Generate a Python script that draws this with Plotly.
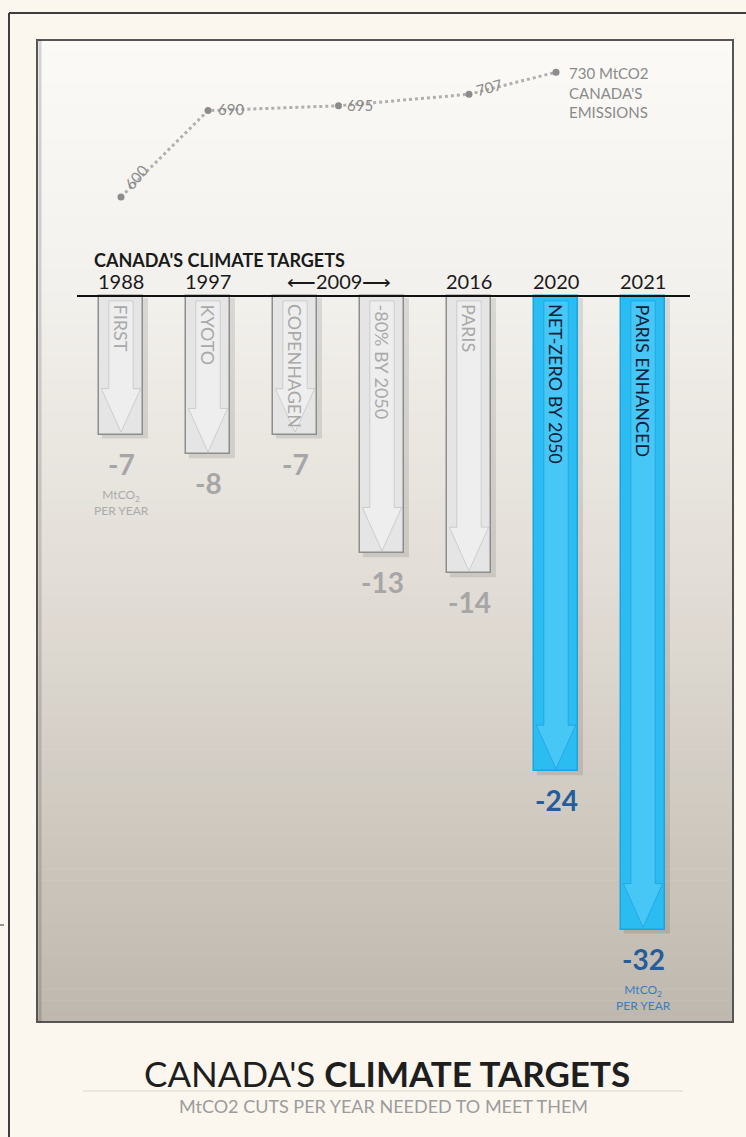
import plotly.graph_objects as go
import numpy as np

# ---------------- data ----------------
targets = ["FIRST", "KYOTO", "COPENHAGEN", "-80% BY 2050", "PARIS", "NET-ZERO BY 2050", "PARIS ENHANCED"]
target_years = ["1988", "1997", "2009", "2009", "2016", "2020", "2021"]
cuts = [-7, -8, -7, -13, -14, -24, -32]          # MtCO2 per year
highlight = [False, False, False, False, False, True, True]

emission_years = ["1988", "1997", "2009", "2016", "2020"]
emissions = [600, 690, 695, 707, 730]             # MtCO2

# ---------------- layout scale (pixels <-> data) ----------------
W, H = 746, 1137
X0, DX = 121, 87.0        # pixel of category 0, pixels per category
Y0, DY = 296, 19.8        # pixel of zero cut, pixels per MtCO2 cut
E0P, E0, DE = 197, 600, 0.96

def xd(px):
    return (px - X0) / DX

def yd(py):
    return (Y0 - py) / DY

def pxp(px):
    return px / W

def pyp(py):
    return 1 - py / H

FONT = "Lato"
GREY_TXT = "#a6a6a6"
BLUE_TXT = "#235d9b"

idx = list(range(len(targets)))
year_pos = {}
for i, y in enumerate(target_years):
    year_pos.setdefault(y, []).append(i)
year_center = {y: float(np.mean(v)) for y, v in year_pos.items()}
em_x = [year_center[y] for y in emission_years]

fig = go.Figure()

shapes = []
# background: outer frame lines
shapes.append(dict(type="line", xref="paper", yref="paper", x0=pxp(9), x1=pxp(9), y0=pyp(13), y1=pyp(H),
                   line=dict(color="#3d3d3d", width=2), layer="below"))
shapes.append(dict(type="line", xref="paper", yref="paper", x0=pxp(9), x1=1, y0=pyp(13), y1=pyp(13),
                   line=dict(color="#3d3d3d", width=2), layer="below"))
shapes.append(dict(type="line", xref="paper", yref="paper", x0=0, x1=pxp(4), y0=pyp(925), y1=pyp(925),
                   line=dict(color="#333", width=1), layer="below"))

# inner panel gradient
stops = [(0.0, (251, 250, 247)), (0.25, (243, 241, 237)), (0.55, (226, 221, 214)), (1.0, (191, 184, 174))]
def grad(t):
    for (a, ca), (b, cb) in zip(stops[:-1], stops[1:]):
        if a <= t <= b:
            f = (t - a) / (b - a)
            return tuple(int(round(ca[k] + f * (cb[k] - ca[k]))) for k in range(3))
    return stops[-1][1]

top, bot, left, right = 40, 1022, 37, 733
n = 90
for k in range(n):
    y1 = top + (bot - top) * k / n
    y2 = top + (bot - top) * (k + 1) / n + 0.6
    c = grad((k + 0.5) / n)
    shapes.append(dict(type="rect", xref="paper", yref="paper", x0=pxp(left), x1=pxp(right),
                       y0=pyp(y2), y1=pyp(y1), fillcolor="rgb(%d,%d,%d)" % c, line=dict(width=0), layer="below"))
# panel shadow + border
shapes.append(dict(type="rect", xref="paper", yref="paper", x0=pxp(left), x1=pxp(right), y0=pyp(bot), y1=pyp(top),
                   fillcolor="rgba(0,0,0,0)", line=dict(color="#555", width=2), layer="below"))
shapes.append(dict(type="line", xref="paper", yref="paper", x0=pxp(left + 3), x1=pxp(left + 3), y0=pyp(bot), y1=pyp(top),
                   line=dict(color="rgba(0,0,0,0.15)", width=3), layer="below"))

# divider under title
shapes.append(dict(type="line", xref="paper", yref="paper", x0=pxp(83), x1=pxp(683), y0=pyp(1091), y1=pyp(1091),
                   line=dict(color="#dcd6ce", width=1), layer="below"))

# bar shadows
BW = 0.5
for i, v in zip(idx, cuts):
    shapes.append(dict(type="rect", xref="x", yref="y", x0=i - BW / 2 + 0.03, x1=i + BW / 2 + 0.06,
                       y0=v - 0.2, y1=-0.1, fillcolor="rgba(0,0,0,0.10)", line=dict(width=0), layer="below"))

fig.add_trace(go.Bar(
    x=idx, y=cuts, width=BW,
    marker=dict(color=["#2bbcf2" if h else "#e5e5e5" for h in highlight],
                line=dict(color=["#1aa6dc" if h else "#8e8e8e" for h in highlight], width=1.5)),
    hoverinfo="skip", showlegend=False,
))

# arrow decoration inside each bar
sw, hw, hh = 0.14, 0.225, 2.2
for i, v, h in zip(idx, cuts, highlight):
    tip = v + 0.12
    yb = tip + hh
    path = (f"M {i-sw},{-0.25} L {i-sw},{yb} L {i-hw},{yb} L {i},{tip} L {i+hw},{yb} "
            f"L {i+sw},{yb} L {i+sw},{-0.25} Z")
    if h:
        shapes.append(dict(type="path", xref="x", yref="y", path=path, fillcolor="rgba(120,220,255,0.35)",
                           line=dict(color="rgba(20,150,210,0.55)", width=1), layer="above"))
    else:
        shapes.append(dict(type="path", xref="x", yref="y", path=path, fillcolor="rgba(255,255,255,0.35)",
                           line=dict(color="rgba(170,170,170,0.45)", width=1), layer="above"))

# baseline
shapes.append(dict(type="line", xref="x", yref="y", x0=xd(77), x1=xd(690), y0=0, y1=0,
                   line=dict(color="#111", width=2), layer="above"))

# emissions line
fig.add_trace(go.Scatter(
    x=em_x, y=emissions, yaxis="y2", mode="lines+markers",
    line=dict(color="#b0b0b0", width=3, dash="dot"),
    marker=dict(color="#8c8c8c", size=7),
    hoverinfo="skip", showlegend=False,
))

ann = []
# emissions labels
emis_label_style = [
    dict(xshift=15, yshift=20, textangle=-50, xanchor="center", yanchor="middle"),
    dict(xshift=8, yshift=2, textangle=0, xanchor="left", yanchor="middle"),
    dict(xshift=6, yshift=1, textangle=0, xanchor="left", yanchor="middle"),
    dict(xshift=20, yshift=7, textangle=-15, xanchor="center", yanchor="middle"),
]
for xx, e, st in zip(em_x[:-1], emissions[:-1], emis_label_style):
    ann.append(dict(x=xx, y=e, xref="x", yref="y2", text=str(e), showarrow=False,
                    font=dict(family=FONT, size=15, color="#8a8a8a"), **st))
ann.append(dict(x=em_x[-1], y=emissions[-1], xref="x", yref="y2",
                text=f"{emissions[-1]} MtCO2<br>CANADA'S<br>EMISSIONS", showarrow=False, align="left",
                xanchor="left", yanchor="top", xshift=11, yshift=10,
                font=dict(family=FONT, size=15, color="#8a8a8a")))

# header
ann.append(dict(x=xd(92), y=0, xref="x", yref="y", yshift=36, text="<b>CANADA'S CLIMATE TARGETS</b>",
                showarrow=False, xanchor="left", yanchor="middle", font=dict(family=FONT, size=18, color="#1a1a1a")))
for y, c in year_center.items():
    txt = "\u27f52009\u27f6" if y == "2009" else y
    ann.append(dict(x=c, y=0, xref="x", yref="y", yshift=15, text=txt, showarrow=False,
                    xanchor="center", yanchor="middle", font=dict(family=FONT, size=20, color="#1a1a1a")))

# labels inside bars (rotated)
for i, t, h in zip(idx, targets, highlight):
    ann.append(dict(x=i, y=0, xref="x", yref="y", yshift=-6, text=t, textangle=90, showarrow=False,
                    xanchor="center", yanchor="top",
                    font=dict(family=FONT, size=18, color="#0d2036" if h else "#a9a9a9")))

# value labels
for k, (i, v, h) in enumerate(zip(idx, cuts, highlight)):
    col = BLUE_TXT if h else GREY_TXT
    ann.append(dict(x=i, y=v, xref="x", yref="y", yshift=-29, text=f"<b>{v}</b>", showarrow=False,
                    xanchor="center", yanchor="middle", font=dict(family=FONT, size=28, color=col)))
    if k == 0 or k == len(cuts) - 1:
        ann.append(dict(x=i, y=v, xref="x", yref="y", yshift=-50, text="MtCO<sub>2</sub><br>PER YEAR",
                        showarrow=False, xanchor="center", yanchor="top",
                        font=dict(family=FONT, size=12, color="#3b7cc0" if h else "#ababab")))

# title
ann.append(dict(x=pxp(387), y=pyp(1073), xref="paper", yref="paper", text="CANADA'S <b>CLIMATE TARGETS</b>",
                showarrow=False, xanchor="center", yanchor="middle", font=dict(family=FONT, size=35, color="#1e1e1e")))
ann.append(dict(x=pxp(383), y=pyp(1106), xref="paper", yref="paper", text="MtCO2 CUTS PER YEAR NEEDED TO MEET THEM",
                showarrow=False, xanchor="center", yanchor="middle", font=dict(family=FONT, size=18, color="#9c9c9c")))

fig.update_layout(
    width=W, height=H, margin=dict(l=0, r=0, t=0, b=0),
    paper_bgcolor="#fbf6ee", plot_bgcolor="rgba(0,0,0,0)",
    xaxis=dict(range=[xd(0), xd(W)], visible=False, fixedrange=True),
    yaxis=dict(range=[yd(H), yd(0)], visible=False, fixedrange=True),
    yaxis2=dict(range=[E0 + (E0P - H) / DE, E0 + E0P / DE], overlaying="y", visible=False, fixedrange=True),
    shapes=shapes, annotations=ann, showlegend=False, bargap=0,
)

fig.write_html("out.html", config={"displayModeBar": False},
               post_script="document.body.style.margin='0';document.body.style.overflow='hidden';")
